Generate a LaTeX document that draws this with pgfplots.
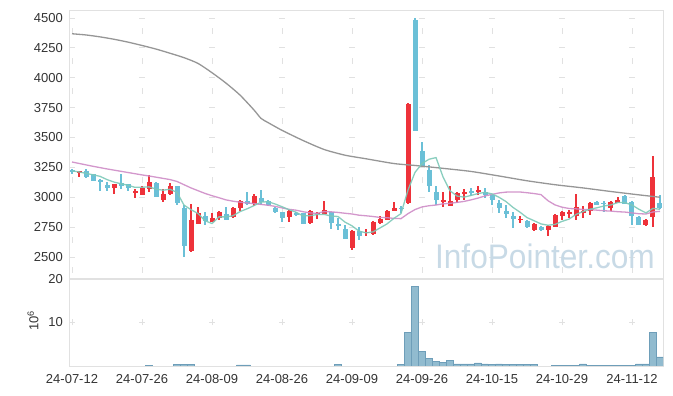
\documentclass[border=0pt]{standalone}
\usepackage{fontspec}
\setmainfont{Liberation Sans}
\usepackage{pgfplots}
\usepackage{pgfplotstable}
\pgfplotsset{compat=1.18}
\definecolor{cred}{RGB}{238,50,58}
\definecolor{cblue}{RGB}{107,192,215}
\definecolor{cteal}{RGB}{125,201,184}
\definecolor{cpurp}{RGB}{206,140,198}
\definecolor{cgray}{RGB}{150,150,150}
\definecolor{cvolf}{RGB}{145,187,207}
\definecolor{cvold}{RGB}{110,158,185}
\definecolor{cgrid}{RGB}{225,225,225}
\definecolor{ctext}{RGB}{51,51,51}
\definecolor{cwm}{RGB}{200,218,230}

\pgfplotstableread{
i o h l c
0 3225 3235 3195 3210
1 3208 3222 3170 3218
2 3220 3240 3165 3170
3 3195 3198 3138 3140
4 3145 3150 3050 3135
5 3105 3125 3050 3078
6 3075 3115 3025 3112
7 3120 3195 3068 3098
8 3110 3115 3050 3075
9 3040 3068 2993 3054
10 3023 3090 3020 3080
11 3070 3187 3048 3130
12 3121 3125 2998 3001
13 2978 3068 2964 3029
14 3026 3118 3020 3096
15 3096 3098 2937 2950
16 2910 2935 2500 2595
17 2548 2942 2545 2810
18 2780 2917 2778 2867
19 2845 2876 2770 2798
20 2795 2867 2790 2828
21 2826 2889 2811 2876
22 2859 2917 2808 2812
23 2834 2915 2830 2912
24 2912 2975 2889 2970
25 2967 3048 2935 2943
26 2942 3029 2923 3012
27 2993 3062 2937 2957
28 2967 2975 2925 2935
29 2912 2915 2870 2873
30 2878 2880 2797 2830
31 2834 2890 2792 2886
32 2867 2880 2840 2850
33 2867 2870 2775 2780
34 2784 2890 2780 2886
35 2860 2878 2817 2872
36 2861 2970 2858 2895
37 2873 2878 2733 2784
38 2778 2826 2722 2756
39 2736 2764 2650 2652
40 2575 2722 2555 2719
41 2719 2747 2644 2672
42 2703 2733 2672 2713
43 2690 2798 2688 2795
44 2784 2839 2780 2817
45 2811 2890 2808 2886
46 2889 2964 2885 2909
47 2912 2930 2870 2906
48 2956 3785 2945 3780
49 4485 4497 3555 3558
50 3388 3466 3250 3257
51 3229 3270 3048 3090
52 3048 3098 2937 2973
53 2960 3048 2917 2978
54 2931 3098 2928 2970
55 2981 3048 2956 3037
56 3031 3071 2978 3048
57 3054 3076 3012 3040
58 3046 3096 3020 3062
59 3048 3076 2993 3018
60 3015 3020 2937 2973
61 2951 2973 2867 2909
62 2889 2937 2828 2856
63 2847 2873 2742 2817
64 2812 2845 2784 2820
65 2805 2810 2742 2750
66 2725 2782 2714 2778
67 2755 2760 2719 2722
68 2728 2765 2678 2761
69 2750 2856 2748 2853
70 2839 2882 2811 2878
71 2864 2895 2826 2873
72 2839 3029 2811 2917
73 2867 2928 2826 2881
74 2881 2964 2853 2951
75 2962 2970 2935 2938
76 2953 2970 2873 2948
77 2914 2970 2881 2964
78 2951 3001 2948 2978
79 3012 3015 2940 2945
80 2962 2965 2770 2839
81 2834 2840 2768 2770
82 2772 2815 2760 2811
83 2831 3346 2755 3168
84 2951 3020 2905 2909
}\ohlc

\pgfplotstableread{
i v
0 3220
1 3212
2 3200
3 3188
4 3175
5 3148
6 3127
7 3113
8 3100
9 3083
10 3084
11 3087
12 3068
13 3059
14 3067
15 3041
16 2934
17 2896
18 2864
19 2804
20 2780
21 2836
22 2836
23 2845
24 2880
25 2903
26 2930
27 2959
28 2963
29 2944
30 2921
31 2896
32 2875
33 2844
34 2846
35 2855
36 2857
37 2843
38 2839
39 2792
40 2761
41 2717
42 2702
43 2710
44 2743
45 2777
46 2824
47 2863
48 3060
49 3208
50 3282
51 3318
52 3332
53 3171
54 3054
55 3010
56 3001
57 3015
58 3031
59 3041
60 3028
61 3000
62 2964
63 2915
64 2875
65 2830
66 2804
67 2777
68 2766
69 2773
70 2798
71 2817
72 2856
73 2880
74 2900
75 2912
76 2927
77 2936
78 2956
79 2955
80 2935
81 2899
82 2869
83 2907
84 2899
}\maA

\pgfplotstableread{
i v
0 3295
1 3283
2 3271
3 3259
4 3248
5 3237
6 3227
7 3217
8 3207
9 3197
10 3187
11 3178
12 3168
13 3158
14 3148
15 3132
16 3105
17 3078
18 3055
19 3032
20 3013
21 2996
22 2978
23 2967
24 2959
25 2952
26 2947
27 2940
28 2933
29 2924
30 2911
31 2899
32 2892
33 2879
34 2869
35 2865
36 2880
37 2878
38 2873
39 2866
40 2860
41 2850
42 2845
43 2839
44 2831
45 2829
46 2823
47 2821
48 2863
49 2897
50 2919
51 2929
52 2935
53 2945
54 2949
55 2957
56 2965
57 2978
58 2993
59 3011
60 3024
61 3036
62 3043
63 3044
64 3044
65 3038
66 3031
67 3022
68 2971
69 2936
70 2917
71 2906
72 2903
73 2898
74 2897
75 2892
76 2887
77 2884
78 2879
79 2876
80 2869
81 2862
82 2860
83 2877
84 2882
}\maB

\pgfplotstableread{
i v
0 4368
2 4358
4 4342
6 4322
8 4298
10 4270
12 4240
14 4205
16 4168
18 4120
20 4042
22 3955
24 3855
26 3730
27 3660
28 3625
30 3560
33 3475
36 3400
39 3352
42 3322
46 3282
49 3266
53 3242
57 3216
61 3178
65 3138
69 3105
73 3078
77 3048
81 3020
84 3000
}\maC

\pgfplotstableread{
i v
11 0.15
15 0.3
16 0.45
17 0.45
24 0.25
25 0.25
38 0.3
47 0.3
48 7.7
49 18.3
50 3.4
51 1.7
52 1.0
53 0.8
54 1.2
55 0.5
56 0.5
57 0.5
58 0.7
59 0.5
60 0.3
61 0.5
62 0.3
63 0.4
64 0.3
65 0.3
66 0.3
69 0.2
70 0.2
71 0.2
72 0.2
73 0.5
74 0.2
75 0.2
76 0.2
77 0.2
78 0.2
79 0.2
80 0.2
81 0.5
82 0.5
83 7.8
84 2.1
}\vol

\pgfplotsset{
  base/.style={
    scale only axis, anchor=south west, width=594pt,
    xmin=-0.43, xmax=84.43, enlargelimits=false,
    xtick={0,10,...,80},
    axis line style={draw=cgrid},
    major tick length=0pt,
    ticklabel style={font=\fontsize{13}{13}\selectfont, text=ctext},
    /pgf/number format/assume math mode=true,
    /pgf/number format/1000 sep={},
    yticklabel style={inner sep=0pt, xshift=-6pt},
    grid=major,
    clip mode=individual,
  },
  candle/.style={draw=none, mark=none, forget plot,
    error bars/.cd, y dir=both, y explicit, error mark=none,
    error bar style={line width=#1}},
}

\begin{document}
\begin{tikzpicture}
\path[use as bounding box] (0,0) rectangle (673pt,396pt);
\begin{axis}[base,
  at={(69pt,118pt)}, height=268pt,
  ymin=2324.4, ymax=4566.9,
  ytick={2500,2750,...,4500},
  xticklabels={},
  x grid style={draw=cgrid, line width=0.8pt, dash pattern=on 6pt off 23.876pt, dash phase=24.876pt},
  y grid style={draw=cgrid, line width=0.8pt, dash pattern=on 6pt off 64pt, dash phase=0pt},
]
\node[anchor=base east, text=cwm, font=\fontsize{34}{34}\selectfont, xscale=0.93, inner sep=0pt] at (rel axis cs:0.9865,0.037) {InfoPointer.com};
% wicks
\addplot[restrict expr to domain={\thisrow{c}-\thisrow{o}}{0.5:100000}, candle=1.2pt, error bar style={draw=cred}]
  table[x=i, y expr={(\thisrow{h}+\thisrow{l})/2}, y error expr={(\thisrow{h}-\thisrow{l})/2}] {\ohlc};
\addplot[restrict expr to domain={\thisrow{c}-\thisrow{o}}{-100000:-0.5}, candle=1.2pt, error bar style={draw=cblue}]
  table[x=i, y expr={(\thisrow{h}+\thisrow{l})/2}, y error expr={(\thisrow{h}-\thisrow{l})/2}] {\ohlc};
% bodies
\addplot[restrict expr to domain={\thisrow{c}-\thisrow{o}}{0.5:100000}, candle=5pt, error bar style={draw=cred}]
  table[x=i, y expr={(\thisrow{c}+\thisrow{o})/2}, y error expr={max(abs(\thisrow{c}-\thisrow{o})/2,5)}] {\ohlc};
\addplot[restrict expr to domain={\thisrow{c}-\thisrow{o}}{-100000:-0.5}, candle=5pt, error bar style={draw=cblue}]
  table[x=i, y expr={(\thisrow{c}+\thisrow{o})/2}, y error expr={max(abs(\thisrow{c}-\thisrow{o})/2,5)}] {\ohlc};
% moving averages
\addplot[cgray, line width=1.3pt, mark=none, smooth, tension=0.4] table[x=i, y=v] {\maC};
\addplot[cpurp, line width=1.3pt, mark=none, opacity=0.9] table[x=i, y=v] {\maB};
\addplot[cteal, line width=1.3pt, mark=none, opacity=0.9] table[x=i, y=v] {\maA};
\end{axis}

\begin{axis}[base,
  at={(69pt,30pt)}, height=87pt,
  ymin=0, ymax=20, ytick={10,20},
  xticklabels={24-07-12,24-07-26,24-08-09,24-08-26,24-09-09,24-09-26,24-10-15,24-10-29,24-11-12},
  xticklabel style={anchor=north, inner sep=0pt, yshift=-8pt},
  x grid style={draw=cgrid, line width=0.8pt, dash pattern=on 6pt off 100pt, dash phase=65.5pt},
  y grid style={draw=cgrid, line width=0.8pt, dash pattern=on 6pt off 64pt, dash phase=0pt},
  ybar, bar width=6.6pt,
]
\addplot[fill=cvolf, draw=cvold, line width=0.6pt] table[x=i, y=v] {\vol};
\draw[cgrid, line width=2pt] (rel axis cs:0,1) -- (rel axis cs:1,1);
\node[rotate=90, text=ctext, font=\fontsize{13}{13}\selectfont, inner sep=0pt] at (rel axis cs:-0.0606,0.52) {10\textsuperscript{6}};
\end{axis}
\end{tikzpicture}
\end{document}
